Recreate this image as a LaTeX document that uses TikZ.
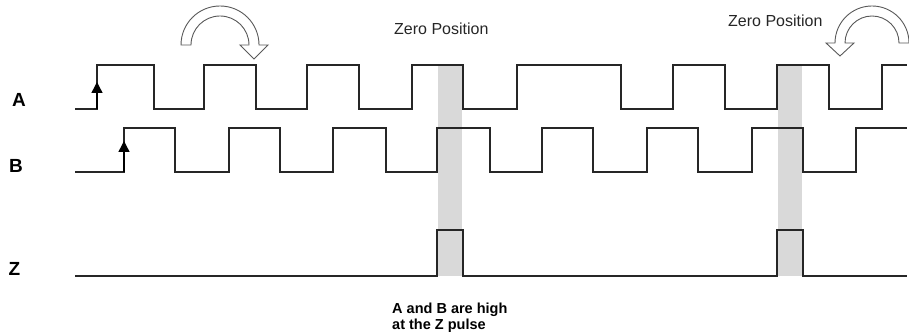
\documentclass[tikz,border=0pt]{standalone}
\usepackage{fontspec}
\setmainfont{Liberation Sans}
\usepackage{tikz}
\usetikzlibrary{arrows.meta}

\begin{document}
\begin{tikzpicture}[x=1pt, y=1pt,
		wave/.style={draw=black!85, line width=1.4pt, line join=miter},
		band/.style={fill=black!15, draw=none},
		hollow/.style={draw=black!65, line width=0.9pt, fill=white, line join=miter},
		siglabel/.style={anchor=base, inner sep=0pt, font=\fontsize{19}{22}\selectfont\bfseries},
		zerolabel/.style={anchor=base west, inner sep=0pt, font=\fontsize{16}{19}\selectfont, text=black!85},
		edgemark/.style={draw=black, line width=1.4pt, -{Triangle[width=11pt,length=11pt]}}]
		\useasboundingbox (0,0) rectangle (909,334);
		% Shaded windows where A and B are both high:
		\fill[band] (438,58) rectangle (462,269);
		\fill[band] (778,58) rectangle (802,269);
		% Channel A:
		\draw[wave] (75,225) -| (97,269) -| (154,225) -| (204,269) -| (256,225) -| (307,269) -| (359,225) -| (412,269) -| (463,225) -| (517,269) -| (621,225) -| (673,269) -| (725,225) -| (777,269) -| (829,225) -| (882,269) -- (907,269);
		% Channel B:
		\draw[wave] (75,162) -| (124,206) -| (175,162) -| (229,206) -| (280,162) -| (333,206) -| (386,162) -| (437,206) -| (490,162) -| (542,206) -| (593,162) -| (647,206) -| (698,162) -| (752,206) -| (803,162) -| (856,206) -- (907,206);
		% Index channel Z:
		\draw[wave] (75,58) -| (437,104) -| (463,58) -| (777,104) -| (803,58) -- (907,58);
		% Rising edge marks:
		\draw[edgemark] (97,225) -- (97,252);
		\draw[edgemark] (124,162) -- (124,193);
		% Direction arrows:
		\draw[hollow] (181,289) arc[start angle=180, end angle=0, radius=39] -- (268,289) -- (254,275) -- (240,289) -- (249,289) arc[start angle=0, end angle=180, radius=29] -- cycle;
		\draw[hollow] (909,291) arc[start angle=0, end angle=180, radius=37] -- (826,291) -- (840,278) -- (854,291) -- (845,291) arc[start angle=180, end angle=0, radius=27] -- cycle;
		% Labels:
		\node[siglabel] (labA) at (19,227) {A};
		\node[siglabel] (labB) at (16,161) {B};
		\node[siglabel] (labZ) at (14.5,58) {Z};
		\node[zerolabel] (zero1) at (394,299) {Zero Position};
		\node[zerolabel] (zero2) at (728,307) {Zero Position};
		\node[anchor=north west, inner sep=0pt, align=left, font=\fontsize{14.5}{16}\selectfont\bfseries] (note) at (392,31.5) {A and B are high\\at the Z pulse};
	\end{tikzpicture}
\end{document}
